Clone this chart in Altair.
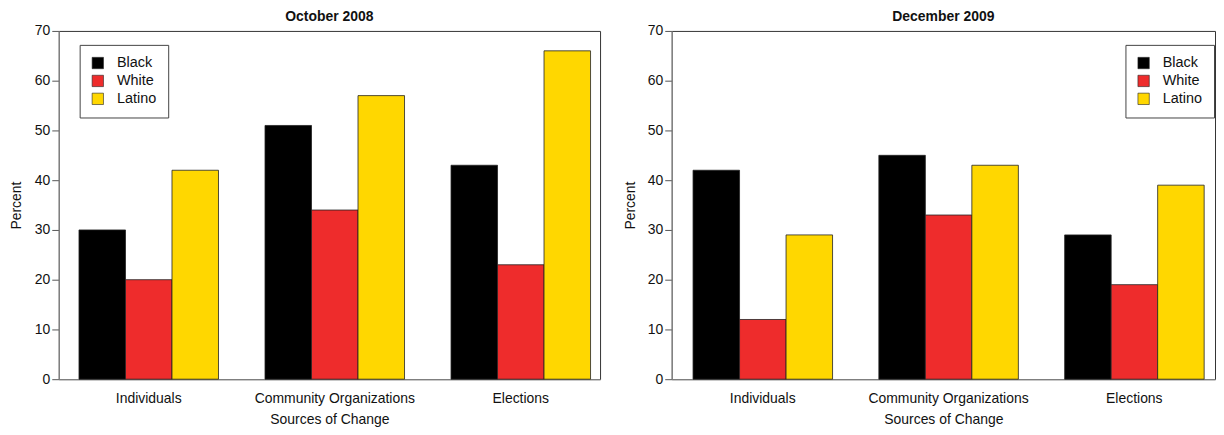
import altair as alt
import pandas as pd

sources = ["Individuals", "Community Organizations", "Elections"]
groups = ["Black", "White", "Latino"]
oct_2008_black = [30, 51, 43]
oct_2008_white = [20, 34, 23]
oct_2008_latino = [42, 57, 66]
dec_2009_black = [42, 45, 29]
dec_2009_white = [12, 33, 19]
dec_2009_latino = [29, 43, 39]
colors = ["#000000", "#EE2C2C", "#FFD700"]

FONT = "Liberation Sans"


def frame(black, white, latino):
    rows = []
    for g, vals in zip(groups, [black, white, latino]):
        for s, v in zip(sources, vals):
            rows.append({"source": s, "group": g, "percent": v})
    return pd.DataFrame(rows)


def panel(df, title, width, pad_outer, align, legend_x, ytitle_pad):
    return (
        alt.Chart(df, title=alt.Title(title, fontSize=14, fontWeight="bold", font=FONT,
                                      color="#111", offset=0, anchor="middle"))
        .mark_bar(stroke="#222", strokeWidth=0.8)
        .encode(
            x=alt.X("source:N", sort=sources,
                    scale=alt.Scale(domain=sources, paddingInner=0.25,
                                    paddingOuter=pad_outer, align=align),
                    axis=alt.Axis(title="Sources of Change", labelAngle=0, ticks=False,
                                  labelPadding=12, titlePadding=8, domainColor="#888")),
            xOffset=alt.XOffset("group:N", sort=groups,
                                scale=alt.Scale(domain=groups, paddingInner=0, paddingOuter=0)),
            y=alt.Y("percent:Q", scale=alt.Scale(domain=[0, 70], nice=False),
                    axis=alt.Axis(title="Percent", values=list(range(0, 71, 10)),
                                  tickSize=7, labelPadding=2, grid=False,
                                  titlePadding=ytitle_pad, domainColor="#888", tickColor="#555")),
            color=alt.Color("group:N", sort=groups,
                            scale=alt.Scale(domain=groups, range=colors),
                            legend=alt.Legend(title=None, orient="none", legendX=legend_x,
                                              legendY=14, strokeColor="#444", fillColor="white",
                                              padding=11, symbolType="square", symbolSize=130,
                                              symbolStrokeColor="#222", symbolStrokeWidth=0.6,
                                              labelFontSize=14.5, labelFont=FONT, rowPadding=2,
                                              labelOffset=12, labelColor="#111")),
        )
        .properties(width=width, height=350)
    )


left = panel(frame(oct_2008_black, oct_2008_white, oct_2008_latino), "October 2008",
             544, 0.08, 0.68, 21, 11)
right = panel(frame(dec_2009_black, dec_2009_white, dec_2009_latino), "December 2009",
              546, 0.087, 0.66, 456, 10)

chart = (
    alt.hconcat(left, right, spacing=21)
    .resolve_scale(color="independent", x="independent", y="independent")
    .resolve_legend(color="independent")
    .properties(padding={"left": 0, "top": 0, "right": 0, "bottom": 0})
    .configure_view(stroke="#333", strokeWidth=1)
    .configure_axis(labelFont=FONT, titleFont=FONT, labelFontSize=14, titleFontSize=14,
                    labelColor="#111", titleColor="#111", titleFontWeight="normal")
)

chart.save("out.html", embed_options={"renderer": "svg", "actions": False})
